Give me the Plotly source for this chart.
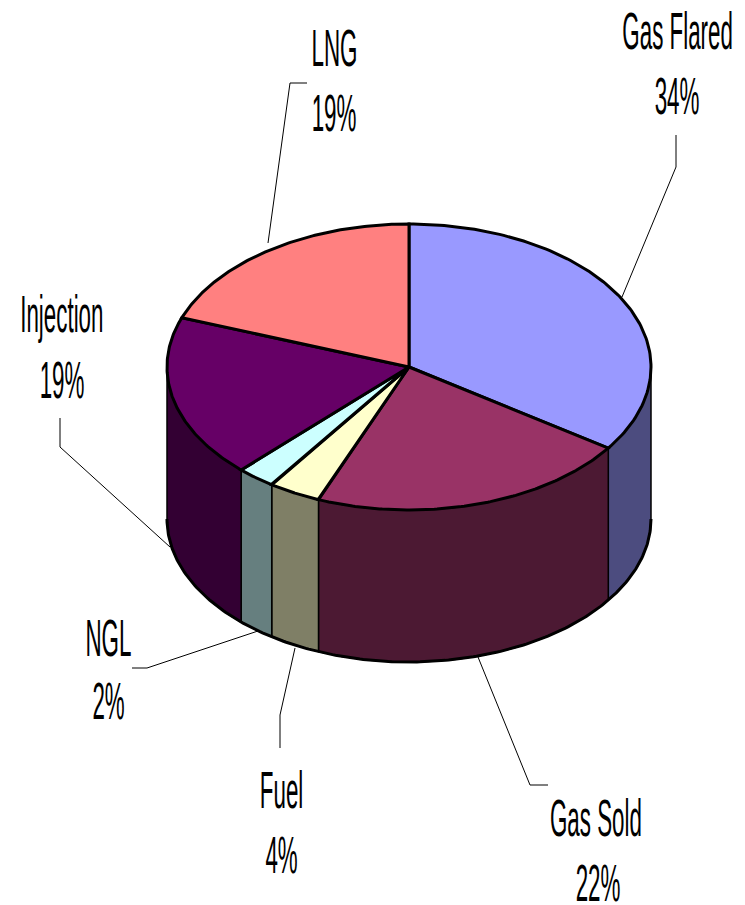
import numpy as np
import plotly.graph_objects as go

# Data
categories = ["Gas Flared", "Gas Sold", "Fuel", "NGL", "Injection", "LNG"]
values = [34.6, 21.5, 3.5, 2.6, 18.4, 19.4]
percent_labels = ["34%", "22%", "4%", "2%", "19%", "19%"]
top_colors = ["#9999FF", "#993366", "#FFFFCC", "#CCFFFF", "#660066", "#FF8080"]
side_colors = ["#4C4C7F", "#4C1933", "#7F7F66", "#667F7F", "#330033", "#7F4040"]

# Layout geometry (pixels of the 745x905 page)
W, H = 745, 905
CX, CY, RX, RY, DEPTH = 409, 367, 242, 143, 152
name_pos = [(677, 31), (596, 818), (281, 790), (108, 638), (62, 314), (334, 48)]
pct_pos = [(677, 96), (598, 883), (281, 855), (108, 701), (62, 380), (334, 113)]
leaders = [
    [(676, 135), (676, 167), (622, 297)],
    [(548, 785), (530, 785), (478, 657)],
    [(280, 748), (280, 715), (295, 648)],
    [(132, 668), (147, 668), (258, 631)],
    [(60, 418), (60, 447), (170, 547)],
    [(307, 83), (290, 83), (268, 243)],
]


def ex(t):
    return CX + RX * np.sin(np.radians(t))


def ey(t, d=0):
    return CY - RY * np.cos(np.radians(t)) + d


fractions = np.array(values) / sum(values)
edges = np.concatenate([[0], np.cumsum(fractions) * 360])

fig = go.Figure()


def poly(x, y, fill, lw):
    fig.add_trace(go.Scatter(x=x, y=y, mode="lines", fill="toself", fillcolor=fill,
                             line=dict(color="black", width=lw), hoverinfo="skip",
                             showlegend=False, cliponaxis=False))


def line(x, y, lw):
    fig.add_trace(go.Scatter(x=x, y=y, mode="lines", line=dict(color="black", width=lw),
                             hoverinfo="skip", showlegend=False, cliponaxis=False))


# Leader lines sit beneath the pie
for pts in leaders:
    line([p[0] for p in pts], [p[1] for p in pts], 1)

# Side walls: only the front half of the cylinder is visible
for i in range(len(values)):
    a, b = max(edges[i], 90), min(edges[i + 1], 270)
    if b <= a:
        continue
    t = np.linspace(a, b, 80)
    xs = np.concatenate([ex(t), ex(t[::-1]), ex(t[:1])])
    ys = np.concatenate([ey(t), ey(t[::-1], DEPTH), ey(t[:1])])
    poly(xs, ys, side_colors[i], 1.5)

# Heavy bottom rim
t = np.linspace(90, 270, 240)
line(ex(t), ey(t, DEPTH), 3)

# Top faces
for i in range(len(values)):
    t = np.linspace(edges[i], edges[i + 1], 120)
    xs = np.concatenate([[CX], ex(t), [CX]])
    ys = np.concatenate([[CY], ey(t), [CY]])
    poly(xs, ys, top_colors[i], 3)

ann = []
for i, c in enumerate(categories):
    for txt, (x, y) in ((c, name_pos[i]), (percent_labels[i], pct_pos[i])):
        ann.append(dict(x=x, y=y, xref="x", yref="y", text=txt, showarrow=False,
                        xanchor="center", yanchor="middle",
                        font=dict(family="Liberation Sans", size=52, color="black")))

fig.update_layout(
    width=W, height=H, margin=dict(l=0, r=0, t=0, b=0),
    paper_bgcolor="white", plot_bgcolor="white", showlegend=False, annotations=ann,
    xaxis=dict(range=[0, W], visible=False, fixedrange=True),
    yaxis=dict(range=[H, 0], visible=False, fixedrange=True),
)

# Page flush with the window; original labels are drawn horizontally condensed
squeeze = """
(function(){
  document.documentElement.style.margin='0';
  document.body.style.margin='0';
  document.body.style.overflow='hidden';
  function go(){
    document.querySelectorAll('.annotation-text').forEach(function(t){
      if(t.getAttribute('textLength')) return;
      var w=t.getComputedTextLength();
      t.setAttribute('textLength', (w*0.43).toFixed(1));
      t.setAttribute('lengthAdjust','spacingAndGlyphs');
    });
  }
  go(); setTimeout(go,50); setTimeout(go,300);
})();
"""
fig.write_html("out.html", post_script=squeeze, config={"displayModeBar": False})
